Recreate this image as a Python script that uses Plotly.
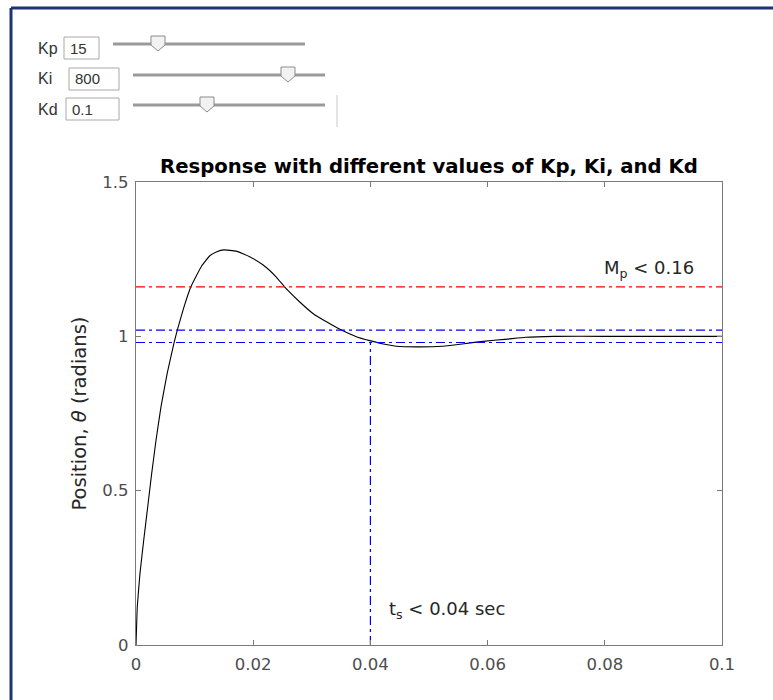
import plotly.graph_objects as go

# ---- data ----
t = [0, 0.00022, 0.00068, 0.00132, 0.00200, 0.00268, 0.00342, 0.00427, 0.00532,
     0.00650, 0.00705, 0.00810, 0.00935, 0.01120, 0.01260, 0.01380, 0.01500,
     0.0171, 0.0194, 0.0217, 0.0239, 0.0256, 0.0279, 0.0302, 0.0325, 0.0348,
     0.0376, 0.0399, 0.0422, 0.0444, 0.0480, 0.0523, 0.0560, 0.0588, 0.0634,
     0.0665, 0.0713, 0.0800, 0.0900, 0.1]
theta = [0, 0.124, 0.232, 0.340, 0.448, 0.556, 0.664, 0.772, 0.880,
         0.980, 1.020, 1.090, 1.160, 1.228, 1.261, 1.274, 1.280,
         1.276, 1.258, 1.231, 1.193, 1.155, 1.112, 1.074, 1.047, 1.023,
         0.999, 0.986, 0.975, 0.968, 0.966, 0.968, 0.976, 0.983, 0.991,
         0.997, 1.000, 1.000, 1.000, 1.000]

mp_level = [1.16]
band_levels = [1.02, 0.98]
ts_value = [0.04]
x_range = [0, 0.1]
y_range = [0, 1.5]

x_ticks = [0, 0.02, 0.04, 0.06, 0.08, 0.1]
x_ticklabels = ["0", "0.02", "0.04", "0.06", "0.08", "0.1"]
y_ticks = [0, 0.5, 1, 1.5]
y_ticklabels = ["0", "0.5", "1", "1.5"]

gain_names = ["Kp", "Ki", "Kd"]
gain_values = ["15", "800", "0.1"]

title_text = "Response with different values of Kp, Ki, and Kd"
ylabel_text = "Position, <i>θ</i> (radians)"
mp_text = "M<sub>p</sub> < 0.16"
ts_text = "t<sub>s</sub> < 0.04 sec"

# ---- layout geometry (pixels) ----
W_FIG, H_FIG = 773, 700
L, R, T, B = 136, 722, 182, 645
PW, PH = R - L, B - T


def px(x):
    return (x - L) / PW


def py(y):
    return (B - y) / PH


fig = go.Figure()

fig.add_trace(go.Scatter(x=t, y=theta, mode="lines",
                         line=dict(color="black", width=1.1, shape="spline", smoothing=0.35),
                         hoverinfo="skip", showlegend=False))

dash = "9px,4px,3px,4px"
fig.add_trace(go.Scatter(x=x_range, y=[mp_level[0]] * 2, mode="lines",
                         line=dict(color="#ff0000", width=1.2, dash=dash),
                         showlegend=False, hoverinfo="skip"))
for lv in band_levels:
    fig.add_trace(go.Scatter(x=x_range, y=[lv, lv], mode="lines",
                             line=dict(color="#0000ff", width=1.2, dash=dash),
                             showlegend=False, hoverinfo="skip"))
fig.add_trace(go.Scatter(x=[ts_value[0], ts_value[0]], y=[0, band_levels[1]], mode="lines",
                         line=dict(color="#0000ff", width=1.2, dash=dash),
                         showlegend=False, hoverinfo="skip"))

shapes = []
# outer navy frame (top and left)
shapes.append(dict(type="line", xref="paper", yref="paper",
                   x0=px(11), x1=px(800), y0=py(8), y1=py(8),
                   line=dict(color="#1f3473", width=3)))
shapes.append(dict(type="line", xref="paper", yref="paper",
                   x0=px(11), x1=px(11), y0=py(8), y1=py(720),
                   line=dict(color="#1f3473", width=3)))

# slider widgets
widgets = [
    # box_x0, box_x1, cy, track_x0, track_x1, thumb_cx
    (64, 99, 48, 113, 305, 158),
    (69, 119, 79, 133, 325, 288),
    (66, 119, 109, 133, 325, 207),
]
annotations = []
for (bx0, bx1, cy, tx0, tx1, tc), name, val in zip(widgets, gain_names, gain_values):
    shapes.append(dict(type="rect", xref="paper", yref="paper",
                       x0=px(bx0), x1=px(bx1), y0=py(cy - 11), y1=py(cy + 11),
                       line=dict(color="#a8a8a8", width=1), fillcolor="white"))
    shapes.append(dict(type="line", xref="paper", yref="paper",
                       x0=px(tx0), x1=px(tx1), y0=py(cy - 4), y1=py(cy - 4),
                       line=dict(color="#9a9a9a", width=3)))
    top = cy - 12
    pts = [(tc - 7, top), (tc + 7, top), (tc + 7, top + 9), (tc, top + 15), (tc - 7, top + 9)]
    path = "M " + " L ".join(f"{px(a):.5f},{py(b):.5f}" for a, b in pts) + " Z"
    shapes.append(dict(type="path", xref="paper", yref="paper", path=path,
                       fillcolor="#f2f2f2", line=dict(color="#8c8c8c", width=1)))
    annotations.append(dict(xref="paper", yref="paper", x=px(36), y=py(cy),
                            xanchor="left", yanchor="middle", showarrow=False,
                            text=name, font=dict(family="Liberation Sans", size=16, color="#333333")))
    annotations.append(dict(xref="paper", yref="paper", x=px(bx0 + 4), y=py(cy),
                            xanchor="left", yanchor="middle", showarrow=False,
                            text=val, font=dict(family="Liberation Sans", size=15, color="#333333")))
# thin vertical separator
shapes.append(dict(type="line", xref="paper", yref="paper",
                   x0=px(337), x1=px(337), y0=py(95), y1=py(127),
                   line=dict(color="#c8c8c8", width=1)))

annotations.append(dict(xref="paper", yref="paper", x=0.5, y=py(166),
                        xanchor="center", yanchor="middle", showarrow=False,
                        text="<b>" + title_text + "</b>",
                        font=dict(family="DejaVu Sans", size=19.7, color="black")))
annotations.append(dict(xref="x", yref="y", x=0.0956, y=1.218,
                        xanchor="right", yanchor="middle", showarrow=False,
                        text=mp_text, font=dict(family="DejaVu Sans", size=18, color="#262626")))
annotations.append(dict(xref="x", yref="y", x=0.0429, y=0.113,
                        xanchor="left", yanchor="middle", showarrow=False,
                        text=ts_text, font=dict(family="DejaVu Sans", size=18, color="#262626")))

axis_common = dict(showgrid=False, zeroline=False, showline=True, linecolor="#7a7a7a",
                   linewidth=1.3, mirror="ticks", ticks="inside", ticklen=5,
                   tickcolor="#7a7a7a", tickwidth=1,
                   tickfont=dict(family="DejaVu Sans", size=16.5, color="#4d4d4d"))

fig.update_layout(
    width=W_FIG, height=H_FIG,
    margin=dict(l=L, r=W_FIG - R, t=T, b=H_FIG - B, pad=0),
    paper_bgcolor="white", plot_bgcolor="white",
    xaxis=dict(range=x_range, tickvals=x_ticks, ticktext=x_ticklabels,
               ticklabelstandoff=4, **axis_common),
    yaxis=dict(range=y_range, tickvals=y_ticks, ticktext=y_ticklabels,
               ticklabelstandoff=3,
               title=dict(text=ylabel_text, standoff=10,
                          font=dict(family="DejaVu Sans", size=19.5, color="#262626")),
               **axis_common),
    shapes=shapes, annotations=annotations, showlegend=False,
)

fig.write_html("out.html", config=dict(displayModeBar=False),
               post_script="document.body.style.margin='0';document.body.style.overflow='hidden';")
